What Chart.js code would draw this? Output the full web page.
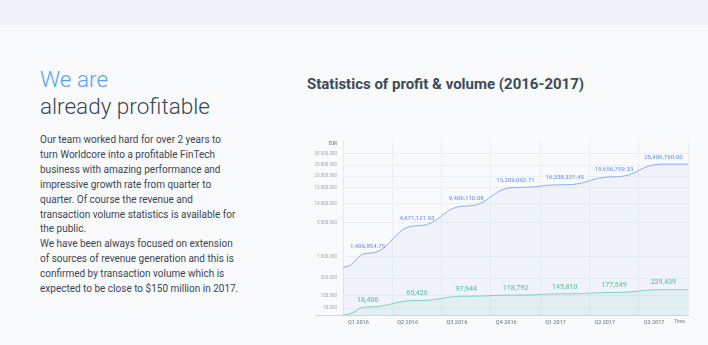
<!DOCTYPE html>
<html>
<head>
<meta charset="utf-8">
<script src="https://cdn.jsdelivr.net/npm/chart.js@4.4.1/dist/chart.umd.min.js"></script>
<style>
  html, body { margin: 0; padding: 0; }
  body {
    width: 708px; height: 345px; overflow: hidden; position: relative;
    background: #f8fafc; font-family: Roboto, "Noto Sans", sans-serif;
  }
  .topbar { position: absolute; left: 0; top: 0; width: 708px; height: 25px; background: #f0f4f8; }
  .intro { position: absolute; left: 40px; top: 65.5px; width: 250px; }
  h1 { margin: 0; font-weight: 300; font-size: 22.5px; line-height: 27px; color: #3b4652; }
  h1 span { color: #5aa2f2; }
  p { margin: 13.5px 0 0; font-size: 10px; line-height: 14.9px; color: #3b4652; }
  h2 {
    position: absolute; left: 307px; top: 76px; margin: 0;
    font-size: 15px; line-height: 16px; font-weight: 700; color: #3e4a56;
  }
  .chart-box { position: absolute; left: 300px; top: 135px; width: 392px; height: 200px; }
</style>
</head>
<body>
<div class="topbar"></div>
<div class="intro">
  <h1><span>We are</span><br>already profitable</h1>
  <p>Our team worked hard for over 2 years to<br>
  turn Worldcore into a profitable FinTech<br>
  business with amazing performance and<br>
  impressive growth rate from quarter to<br>
  quarter. Of course the revenue and<br>
  transaction volume statistics is available for<br>
  the public.<br>
  We have been always focused on extension<br>
  of sources of revenue generation and this is<br>
  confirmed by transaction volume which is<br>
  expected to be close to $150 million in 2017.</p>
</div>
<h2>Statistics of profit &amp; volume (2016-2017)</h2>
<div class="chart-box"><canvas id="statsChart"></canvas></div>

<script>
const quarters = ['Q1 2016', 'Q2 2016', 'Q3 2016', 'Q4 2016', 'Q1 2017', 'Q2 2017', 'Q3 2017'];
const profit = [1406854.75, 4671121.93, 9406110.08, 15209092.71, 16338321.45, 19656759.33, 25406790.00];
const volume = [18406, 65426, 97944, 118792, 145810, 177549, 239439];
// where each line starts at the left axis
const profitStart = 750000;
const volumeStart = 0;
const yTickValues = [0, 10000, 100000, 500000, 1000000, 5000000, 10000000, 15000000, 20000000, 25000000, 30000000];

// the y axis of the picture is not linear: each tick sits at its own height
class PiecewiseScale extends Chart.Scale {
  static id = 'piecewise';
  static defaults = {};

  determineDataLimits() {
    const stops = this.options.stops;
    this.min = stops[0];
    this.max = stops[stops.length - 1];
  }

  buildTicks() {
    return this.options.tickValues.map(value => ({ value }));
  }

  getLabelForValue(value) {
    return String(value);
  }

  toDecimal(value) {
    const { stops, positions } = this.options;
    if (value <= stops[0]) return positions[0];
    for (let i = 1; i < stops.length; i++) {
      if (value <= stops[i]) {
        const t = (value - stops[i - 1]) / (stops[i] - stops[i - 1]);
        return positions[i - 1] + t * (positions[i] - positions[i - 1]);
      }
    }
    return positions[positions.length - 1];
  }

  getPixelForValue(value) {
    return this.getPixelForDecimal(this.toDecimal(value));
  }

  getPixelForTick(index) {
    return this.getPixelForValue(this.ticks[index].value);
  }

  getValueForPixel(pixel) {
    const d = this.getDecimalForPixel(pixel);
    const { stops, positions } = this.options;
    for (let i = 1; i < positions.length; i++) {
      if (d <= positions[i]) {
        const t = (d - positions[i - 1]) / (positions[i] - positions[i - 1]);
        return stops[i - 1] + t * (stops[i] - stops[i - 1]);
      }
    }
    return stops[stops.length - 1];
  }
}
Chart.register(PiecewiseScale);

function buildSeries(start, values, fmt) {
  const pts = [{ x: 0, y: start }];
  values.forEach((v, i) => pts.push({ x: i + 0.5, y: v, text: fmt(v) }));
  pts.push({ x: quarters.length, y: values[values.length - 1] });
  return pts;
}

const money = v => v.toLocaleString('en-US', { minimumFractionDigits: 2, maximumFractionDigits: 2 });
const plain = v => v.toLocaleString('en-US');

// S-shaped steps: flat tangent at every point
const flatCurves = {
  id: 'flatCurves',
  afterDatasetsUpdate(chart) {
    chart.data.datasets.forEach((ds, di) => {
      const meta = chart.getDatasetMeta(di);
      const pts = meta.data;
      meta.dataset.updateControlPoints(chart.chartArea, 'x');
      pts.forEach((p, i) => {
        const prev = pts[i - 1], next = pts[i + 1];
        p.cp1x = prev ? p.x - (p.x - prev.x) * 0.5 : p.x;
        p.cp1y = p.y;
        p.cp2x = next ? p.x + (next.x - p.x) * 0.5 : p.x;
        p.cp2y = p.y;
      });
    });
  }
};

const valueLabels = {
  id: 'valueLabels',
  afterDatasetsDraw(chart) {
    const ctx = chart.ctx;
    ctx.save();
    ctx.textAlign = 'center';
    ctx.textBaseline = 'middle';
    chart.data.datasets.forEach((ds, di) => {
      const meta = chart.getDatasetMeta(di);
      meta.data.forEach((p, i) => {
        const raw = ds.data[i];
        if (!raw.text) return;
        ctx.font = ds.labelFont;
        ctx.fillStyle = ds.labelColor;
        ctx.fillText(raw.text, p.x, p.y - 7);
      });
    });
    // axis units
    const { left, right, top, bottom } = chart.chartArea;
    ctx.font = '600 4.5px Roboto';
    ctx.fillStyle = '#7d8894';
    ctx.textAlign = 'right';
    ctx.fillText('EUR', left - 6, top + 4);
    ctx.font = '500 5px Roboto';
    ctx.fillStyle = '#8a95a0';
    ctx.fillText('Time', right - 3, bottom + 7);
    ctx.restore();
  }
};

new Chart(document.getElementById('statsChart'), {
  type: 'line',
  data: {
    datasets: [
      {
        data: buildSeries(profitStart, profit, money),
        borderColor: '#8ea9f3',
        backgroundColor: 'rgba(150, 165, 230, 0.08)',
        borderWidth: 1,
        fill: 'origin',
        tension: 0.4,
        pointRadius: 0,
        labelFont: '500 6px Roboto',
        labelColor: '#7a9bee'
      },
      {
        data: buildSeries(volumeStart, volume, plain),
        borderColor: '#7dd3b6',
        backgroundColor: 'rgba(125, 211, 182, 0.12)',
        borderWidth: 1,
        fill: 'origin',
        tension: 0.4,
        pointRadius: 0,
        labelFont: '500 7px Roboto',
        labelColor: '#6cc8a8'
      }
    ]
  },
  options: {
    responsive: true,
    maintainAspectRatio: false,
    animation: false,
    layout: { padding: { top: 5, right: 4, bottom: 0, left: 0 } },
    plugins: {
      legend: { display: false },
      tooltip: { enabled: false }
    },
    scales: {
      x: {
        type: 'linear',
        min: 0,
        max: quarters.length,
        afterFit: scale => { scale.height = 20; },
        border: { color: '#cfd5dc', width: 1 },
        grid: { color: '#eceff4', drawTicks: false },
        ticks: {
          stepSize: 1,
          autoSkip: false,
          maxRotation: 0,
          align: 'start',
          labelOffset: 5,
          padding: 4,
          color: '#7c8792',
          font: { size: 5.5, weight: '500', family: 'Roboto' },
          callback: v => quarters[v] || ''
        }
      },
      y: {
        type: 'piecewise',
        stops:     [0, 10000, 100000, 500000, 1000000, 5000000, 10000000, 15000000, 20000000, 25000000, 30000000, 33000000],
        positions: [0, 0.04, 0.109, 0.211, 0.333, 0.526, 0.636, 0.726, 0.794, 0.857, 0.922, 1],
        tickValues: yTickValues,
        afterFit: scale => { scale.width = 43; },
        border: { color: '#e3e7ee', width: 1 },
        grid: {
          color: ctx => ctx.tick && ctx.tick.value === 0 ? 'rgba(0,0,0,0)' : '#eceff4',
          tickLength: 28,
          tickColor: ctx => ctx.tick && ctx.tick.value === 0 ? '#cfd5dc' : 'rgba(0,0,0,0)'
        },
        ticks: {
          autoSkip: false,
          padding: -22,
          color: '#a0a8b2',
          font: { size: 4.5, family: 'Roboto' },
          callback: v => v === 0 ? '' : v.toLocaleString('de-DE')
        }
      }
    }
  },
  plugins: [flatCurves, valueLabels]
});
</script>
</body>
</html>
